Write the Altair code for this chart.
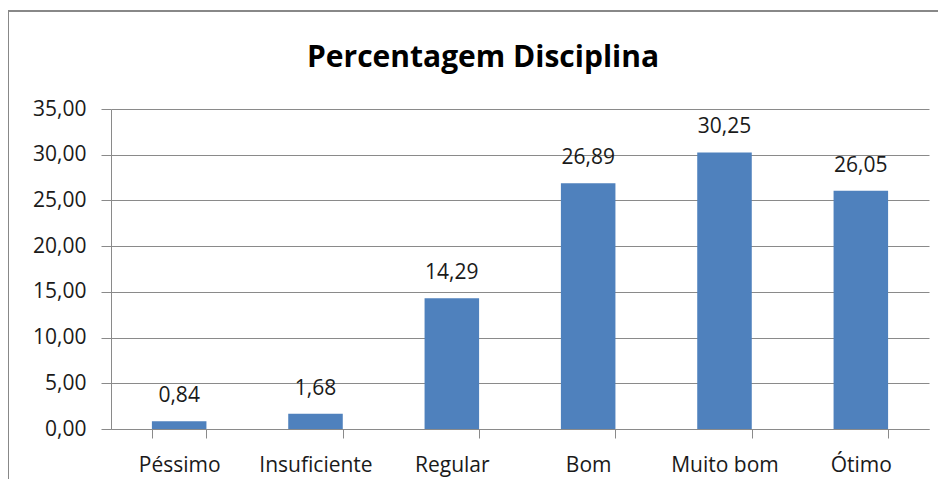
import altair as alt
import pandas as pd

categories = ["Péssimo", "Insuficiente", "Regular", "Bom", "Muito bom", "Ótimo"]
values = [0.84, 1.68, 14.29, 26.89, 30.25, 26.05]
labels = [f"{v:.2f}".replace(".", ",") for v in values]
y_ticks = [0, 5, 10, 15, 20, 25, 30, 35]
title_text = "Percentagem Disciplina"

df = pd.DataFrame({"cat": categories, "val": values, "lab": labels})

FONT = "Open Sans"
GRAY = "#8a8a8a"
TXT = "#1a1a1a"

x_enc = alt.X(
    "cat:N", sort=categories, title=None,
    scale=alt.Scale(paddingInner=0.6, paddingOuter=0.3),
    axis=alt.Axis(labelAngle=0, labelFont=FONT, labelFontSize=21, labelColor=TXT,
                  tickColor=GRAY, tickSize=9, domainColor=GRAY, labelPadding=16,
                  tickBand="extent", grid=False),
)
y_enc = alt.Y(
    "val:Q", title=None,
    scale=alt.Scale(domain=[0, 35], nice=False),
    axis=alt.Axis(values=y_ticks, labelExpr="replace(format(datum.value, '.2f'), '.', ',')",
                  labelFont=FONT, labelFontSize=21, labelColor=TXT,
                  tickColor=GRAY, tickSize=10, domainColor=GRAY, gridColor=GRAY,
                  labelPadding=15, grid=True),
)

base = alt.Chart(df)
bars = base.mark_bar(color="#4F81BD").encode(x=x_enc, y=y_enc)
text = base.mark_text(dy=-19, baseline="alphabetic", font=FONT, fontSize=21,
                      color=TXT).encode(x=alt.X("cat:N", sort=categories),
                                        y="val:Q", text="lab:N")

frame = alt.Chart(pd.DataFrame({"a": [0]})).mark_rect(
    fill=None, stroke="#888888", strokeWidth=2, clip=False
).encode(x=alt.value(-103), y=alt.value(-98), x2=alt.value(1000), y2=alt.value(600))

title = alt.Chart(pd.DataFrame({"t": [title_text]})).mark_text(
    font=FONT, fontSize=30, fontWeight="bold", color="#000000",
    align="center", baseline="alphabetic"
).encode(x=alt.value(372), y=alt.value(-42), text="t:N")

chart = alt.layer(frame, bars, text, title).properties(
    width=818, height=320,
    autosize=alt.AutoSizeParams(type="none"),
    padding={"left": 103, "top": 101, "right": 9, "bottom": 50},
    background="white",
).configure_view(stroke=None)

chart.save("out.html", embed_options={"renderer": "svg", "actions": False})
